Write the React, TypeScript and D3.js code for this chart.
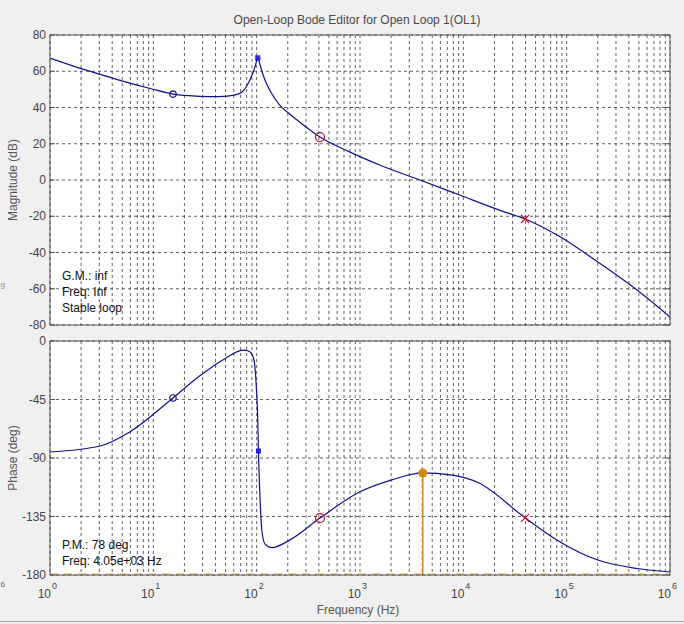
import React from "react";
import * as d3 from "d3";

const W = 684;
const H = 624;

const magFreq = [1, 2.04, 3.05, 4.76, 9.3, 15.5, 22, 35.4, 52, 69, 86, 96.5, 102.5, 108, 114.5, 134, 168, 210, 262, 410, 800, 1550, 3800, 9200, 22000, 39600, 84000, 200000, 480000, 1000000];
const magDb = [67.3, 61.3, 58.3, 55.0, 50.5, 47.4, 46.5, 46.0, 46.3, 47.8, 55.2, 62.5, 67.3, 63.5, 58.5, 49.5, 41.2, 36.3, 31.9, 23.7, 15.4, 8.3, 0, -8.3, -16.5, -21.5, -30.9, -45.2, -60.7, -75.6];

const phFreq = [1, 3.05, 5.9, 15.5, 28, 47, 74, 82, 89, 95, 99, 102.5, 104, 107, 112, 120, 140, 210, 410, 1000, 2000, 4050, 7500, 14000, 39600, 84000, 200000, 480000, 1000000];
const phDeg = [-85.4, -80.8, -70, -43.8, -27, -14.6, -7.0, -7.5, -9.5, -16, -34, -61, -84.6, -114.6, -145, -156, -159, -153, -136.2, -116, -107, -101.5, -103, -109, -136, -154, -168.5, -175, -177.7];

const magTicks = [80, 60, 40, 20, 0, -20, -40, -60, -80];
const phTicks = [0, -45, -90, -135, -180];
const decades = [0, 1, 2, 3, 4, 5, 6];

const gmLines = ["G.M.: inf", "Freq: Inf", "Stable loop"];
const pmLines = ["P.M.: 78 deg", "Freq: 4.05e+03 Hz"];
const pmFreq = 4050;
const pmPhase = -101.5;

const magMarkers = [
  { f: 15.5, v: 47.4, kind: "circle", color: "#1a1a80" },
  { f: 102.5, v: 67.3, kind: "star", color: "#2020d0" },
  { f: 410, v: 23.7, kind: "circle", color: "#c8102e" },
  { f: 39600, v: -21.5, kind: "x", color: "#c8102e" },
];
const phMarkers = [
  { f: 15.5, v: -43.8, kind: "circle", color: "#1a1a80" },
  { f: 104, v: -84.6, kind: "square", color: "#2020d0" },
  { f: 410, v: -136.2, kind: "circle", color: "#c8102e" },
  { f: 39600, v: -136, kind: "x", color: "#c8102e" },
];

const FONT = "Arial, 'Liberation Sans', sans-serif";
const L = 50, R = 670;
const MT = 35, MB = 325;
const PT = 341, PB = 575;

function Marker({ x, y, kind, color }: { x: number; y: number; kind: string; color: string }) {
  if (kind === "circle") {
    const r = color === "#c8102e" ? 4.5 : 3.2;
    return <circle cx={x} cy={y} r={r} fill="none" stroke={color} strokeWidth={1.2} />;
  }
  if (kind === "x") {
    return (
      <g stroke={color} strokeWidth={1.2}>
        <line x1={x - 4} y1={y - 4} x2={x + 4} y2={y + 4} />
        <line x1={x - 4} y1={y + 4} x2={x + 4} y2={y - 4} />
      </g>
    );
  }
  if (kind === "square") {
    return <rect x={x - 2.5} y={y - 2.5} width={5} height={5} fill={color} />;
  }
  return (
    <g stroke={color} strokeWidth={1.4}>
      <line x1={x - 3} y1={y} x2={x + 3} y2={y} />
      <line x1={x} y1={y - 3} x2={x} y2={y + 3} />
      <line x1={x - 2.5} y1={y - 2.5} x2={x + 2.5} y2={y + 2.5} />
      <line x1={x - 2.5} y1={y + 2.5} x2={x + 2.5} y2={y - 2.5} />
    </g>
  );
}

export default function App() {
  const x = d3.scaleLog().domain([1, 1e6]).range([L, R]);
  const yM = d3.scaleLinear().domain([-80, 80]).range([MB, MT]);
  const yP = d3.scaleLinear().domain([-180, 0]).range([PB, PT]);

  const gridX: number[] = [];
  for (let d = 0; d < 6; d++) {
    for (let m = 1; m <= 9; m++) gridX.push(m * Math.pow(10, d));
  }
  gridX.push(1e6);

  const magLine = d3
    .line<number>()
    .x((_, i) => x(magFreq[i]))
    .y((v) => yM(v))
    .curve(d3.curveMonotoneX);
  const phLine = d3
    .line<number>()
    .x((_, i) => x(phFreq[i]))
    .y((v) => yP(v))
    .curve(d3.curveMonotoneX);

  const gridColor = "#3a3a3a";
  const axisColor = "#555";
  const textColor = "#444";

  const panel = (top: number, bottom: number, ticks: number[], ys: (v: number) => number, key: string) => (
    <g key={key}>
      <rect x={L} y={top} width={R - L} height={bottom - top} fill="#fff" />
      {gridX.map((f, i) => (
        <line key={"gx" + i} x1={x(f)} x2={x(f)} y1={top} y2={bottom} stroke={gridColor} strokeWidth={0.8} strokeDasharray="3,3" />
      ))}
      {ticks.map((t, i) => (
        <line key={"gy" + i} x1={L} x2={R} y1={ys(t)} y2={ys(t)} stroke={gridColor} strokeWidth={0.8} strokeDasharray="3,3" />
      ))}
      {ticks.map((t, i) => (
        <text key={"ty" + i} x={L - 4} y={ys(t) + 4} textAnchor="end" fontSize={12} fill={textColor} fontFamily={FONT}>
          {t}
        </text>
      ))}
      {ticks.map((t, i) => (
        <g key={"tk" + i} stroke={axisColor}>
          <line x1={L} x2={L + 5} y1={ys(t)} y2={ys(t)} />
          <line x1={R} x2={R - 5} y1={ys(t)} y2={ys(t)} />
        </g>
      ))}
    </g>
  );

  return (
    <svg
      width={W}
      height={H}
      style={{ position: "fixed", left: 0, top: 0, background: "#f0f0f0" }}
      xmlns="http://www.w3.org/2000/svg"
    >
      <rect x={0} y={0} width={W} height={H} fill="#f0f0f0" />
      <text x={357} y={24} textAnchor="middle" fontSize={12} fill="#4a4a4a" fontFamily={FONT}>
        Open-Loop Bode Editor for Open Loop 1(OL1)
      </text>

      {panel(MT, MB, magTicks, yM, "mag")}
      {panel(PT, PB, phTicks, yP, "ph")}

      <line x1={L} x2={R} y1={yP(-180) - 1} y2={yP(-180) - 1} stroke="#d9a030" strokeWidth={1.2} strokeDasharray="8,6" />

      <defs>
        <clipPath id="cm">
          <rect x={L} y={MT} width={R - L} height={MB - MT} />
        </clipPath>
        <clipPath id="cp">
          <rect x={L} y={PT} width={R - L} height={PB - PT} />
        </clipPath>
      </defs>

      <path d={magLine(magDb) || ""} fill="none" stroke="#10108a" strokeWidth={1.2} clipPath="url(#cm)" />
      <path d={phLine(phDeg) || ""} fill="none" stroke="#10108a" strokeWidth={1.2} clipPath="url(#cp)" />

      <line x1={x(pmFreq)} x2={x(pmFreq)} y1={yP(pmPhase)} y2={PB} stroke="#d08a10" strokeWidth={1.5} />
      <circle cx={x(pmFreq)} cy={yP(pmPhase)} r={4.5} fill="#d08a10" />

      {magMarkers.map((m, i) => (
        <Marker key={"mm" + i} x={x(m.f)} y={yM(m.v)} kind={m.kind} color={m.color} />
      ))}
      {phMarkers.map((m, i) => (
        <Marker key={"pm" + i} x={x(m.f)} y={yP(m.v)} kind={m.kind} color={m.color} />
      ))}

      <rect x={L} y={MT} width={R - L} height={MB - MT} fill="none" stroke={axisColor} strokeWidth={1} />
      <rect x={L} y={PT} width={R - L} height={PB - PT} fill="none" stroke={axisColor} strokeWidth={1} />

      {decades.map((d) => (
        <g key={"xl" + d}>
          <text x={x(Math.pow(10, d)) + 1} y={598} textAnchor="end" fontSize={12} fill={textColor} fontFamily={FONT}>
            10
          </text>
          <text x={x(Math.pow(10, d)) + 2} y={589} fontSize={9} fill={textColor} fontFamily={FONT}>
            {d}
          </text>
        </g>
      ))}

      {gmLines.map((s, i) => (
        <text key={"gm" + i} x={62} y={280 + i * 16} fontSize={12} fill="#111" fontFamily={FONT}>
          {s}
        </text>
      ))}
      {pmLines.map((s, i) => (
        <text key={"pmt" + i} x={62} y={549 + i * 16} fontSize={12} fill="#111" fontFamily={FONT}>
          {s}
        </text>
      ))}

      <text transform="translate(17,180) rotate(-90)" textAnchor="middle" fontSize={12} fill="#555" fontFamily={FONT}>
        Magnitude (dB)
      </text>
      <text transform="translate(17,458) rotate(-90)" textAnchor="middle" fontSize={12} fill="#555" fontFamily={FONT}>
        Phase (deg)
      </text>
      <text x={358} y={614} textAnchor="middle" fontSize={12} fill="#555" fontFamily={FONT}>
        Frequency (Hz)
      </text>

      <text x={0.5} y={587} fontSize={8} fill="#666" fontFamily={FONT}>6</text>
      <text x={0.5} y={287} fontSize={8} fill="#888" fontFamily={FONT}>g</text>

      <line x1={0} x2={W} y1={621.5} y2={621.5} stroke="#a8a8a8" />
    </svg>
  );
}
